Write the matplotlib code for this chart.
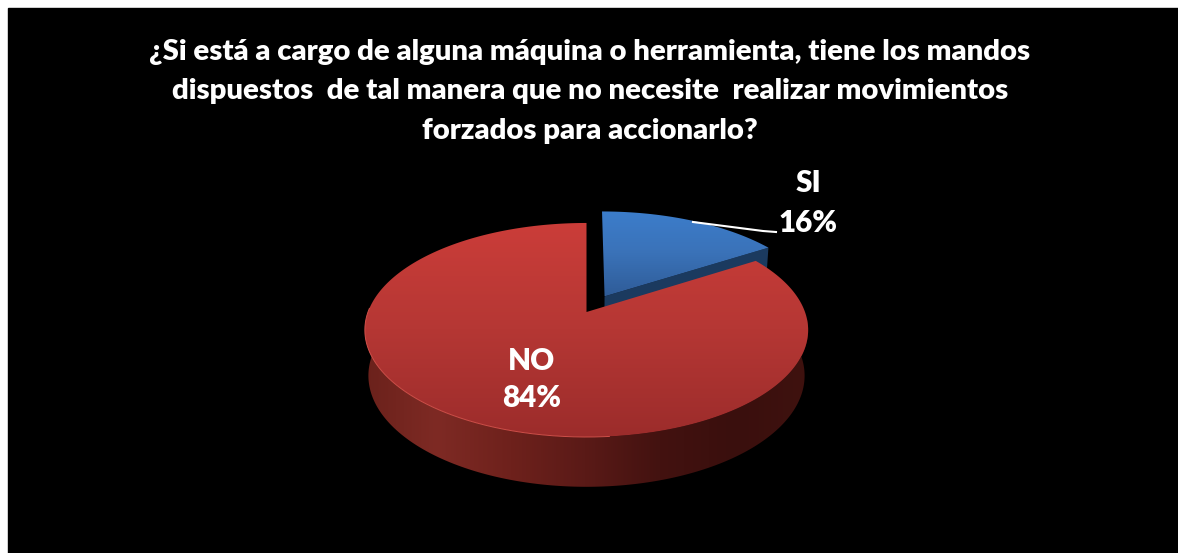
import numpy as np
import matplotlib
matplotlib.use("Agg")
import matplotlib.pyplot as plt
from matplotlib.colors import LinearSegmentedColormap
from matplotlib.patches import Polygon, Rectangle

categories = ["SI", "NO"]
values = [16, 84]
title_lines = ["¿Si está a cargo de alguna máquina o herramienta, tiene los mandos",
               "dispuestos  de tal manera que no necesite  realizar movimientos",
               "forzados para accionarlo?"]

plt.rcParams['font.family'] = ['Lato', 'DejaVu Sans']

W, H = 1178, 553
cx, cy = 586.5, 312    # centre of the pie in pixels
k = 0.168              # perspective
A, B = 218.5, 104      # top face
A2, B2, dy2 = 215, 108, 45  # bottom face
explode = 0.176


def top(u, v):
    d = 1 + k*v
    return cx + A*u/d, cy - B*v/d


def bottom(u, v):
    d = 1 + k*v
    return cx + A2*u/d, cy + dy2 - B2*v/d


def arc(t1, t2, n=300):
    t = np.radians(np.linspace(t1, t2, n))
    return np.cos(t), np.sin(t)


def face(u, v, f=top):
    x, y = f(u, v)
    return np.column_stack([x, y])


def gradient(ax, patch_pts, colors, extent, horizontal=False, z=2):
    cmap = LinearSegmentedColormap.from_list("g", colors)
    g = np.linspace(0, 1, 256)
    g = g[None, :] if horizontal else g[:, None]
    im = ax.imshow(g, cmap=cmap, extent=extent, aspect='auto', origin='upper',
                   zorder=z, interpolation='bilinear')
    p = Polygon(patch_pts, closed=True, transform=ax.transData)
    im.set_clip_path(p)
    return im


fig = plt.figure(figsize=(W/100, H/100), dpi=100, facecolor='white')
ax = fig.add_axes([0, 0, 1, 1])
ax.set_axis_off()
ax.add_patch(Rectangle((8, 8), W, H, color='black', zorder=0))

# angles from the values, clockwise from 12 o'clock
sweep = 360*np.array(values)/sum(values)
si_end = 90 - sweep[0]
si_mid = 90 - sweep[0]/2

# SI slice, pulled out along its bisector
u0 = explode*np.cos(np.radians(si_mid))
v0 = explode*np.sin(np.radians(si_mid))
u, v = arc(90, si_end)
u = np.concatenate([[0], u, [0]]) + u0
v = np.concatenate([[0], v, [0]]) + v0
wall_top = face(u[[0, -2]], v[[0, -2]])
wall_bot = face(u[[-2, 0]], v[[-2, 0]], bottom)
ax.add_patch(Polygon(np.vstack([wall_top, wall_bot]), closed=True, color='#1b3a5f', lw=0, zorder=2))
pts = face(u, v)
gradient(ax, pts, ['#3c7dcb', '#3a72b8', '#2f5c98'],
         [pts[:, 0].min(), pts[:, 0].max(), pts[:, 1].max(), pts[:, 1].min()], z=3)

# NO slice: side wall then top face
u, v = arc(170, 372)
side = np.vstack([face(u, v), face(u[::-1], v[::-1], bottom)])
gradient(ax, side, ['#6a211b', '#7e2a24', '#6e211c', '#5a1a17', '#431210', '#3a0f0d', '#3f120f'],
         [cx - 225, cx + 222, 495, 320], horizontal=True, z=4)
u, v = arc(90, 90 + sweep[1])
u = np.concatenate([[0], u])
v = np.concatenate([[0], v])
pts = face(u, v)
gradient(ax, pts, ['#cb3d39', '#b53734', '#9c2c2b'],
         [pts[:, 0].min(), pts[:, 0].max(), pts[:, 1].max(), pts[:, 1].min()], z=5)
u, v = arc(178, 275)
rim = face(u, v)
ax.plot(rim[:, 0], rim[:, 1], color='#cf4f49', lw=0.7, zorder=6)

# leader line
ax.plot([693, 763, 776], [222, 231, 232], color='white', lw=1.5, zorder=7)

for i, line in enumerate(title_lines):
    ax.text(590, 52 + 39.5*i, line, color='white', fontsize=21.1, fontweight='heavy',
            ha='center', va='center', zorder=8)
ax.text(808, 183, categories[0], color='white', fontsize=21.3, fontweight='heavy', ha='center', va='center', zorder=8)
ax.text(808, 223, f"{values[0]}%", color='white', fontsize=21.3, fontweight='heavy', ha='center', va='center', zorder=8)
ax.text(532, 361, categories[1], color='white', fontsize=21.3, fontweight='heavy', ha='center', va='center', zorder=8)
ax.text(532, 398, f"{values[1]}%", color='white', fontsize=21.3, fontweight='heavy', ha='center', va='center', zorder=8)

ax.set_xlim(0, W)
ax.set_ylim(H, 0)
fig.savefig("out.png", dpi=100, facecolor='white')
